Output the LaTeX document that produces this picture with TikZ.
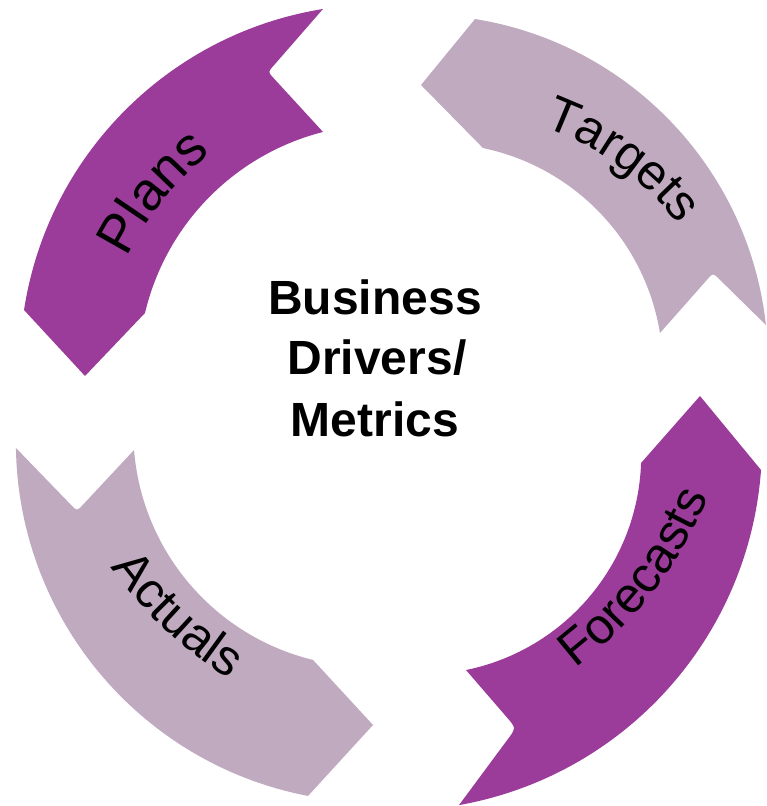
\documentclass[tikz,border=0pt]{standalone}
\usepackage{fontspec}
\setmainfont{Liberation Sans}
\usetikzlibrary{decorations.text}
\definecolor{plum}{RGB}{155,60,155}
\definecolor{mauve}{RGB}{192,170,192}
\newcommand\lblfont{\fontsize{50}{50}\selectfont}
\newcommand\lblfontbig{\fontsize{54}{54}\selectfont}
\begin{document}
\begin{tikzpicture}[x=1pt,y=1pt,
  lbl/.style={decoration={text along path, text align=center, text={#1}}, decorate},
  ctr/.style={font=\fontsize{48}{48}\selectfont\bfseries, inner sep=0pt}]
\useasboundingbox (0,0) rectangle (767,806);

% Plans arrow
\fill[plum] ([shift={(380.3,441.1)}]99.15:360.5) arc[start angle=99.15, end angle=171.24, radius=360.5]
  -- (85,430) -- ([shift={(383.4,436.6)}]166.69:245) arc[start angle=166.69, end angle=104.27, radius=245]
  -- (273.4,728.1) .. controls (268,734) .. (273.3,740) -- cycle;

% Targets arrow
\fill[mauve] (421,721) -- ([shift={(419.7,443.1)}]80.86:348.3) arc[start angle=80.86, end angle=6.25, radius=348.3]
  -- (718.7,527.4) .. controls (713,533) .. (707.7,527)
  -- ([shift={(436.9,436.7)}]9.24:226) arc[start angle=9.24, end angle=78.23, radius=226] -- cycle;

% Actuals arrow
\fill[mauve] ([shift={(375.9,363.6)}]180.89:360) arc[start angle=180.89, end angle=259.13, radius=360]
  -- (373,81) -- ([shift={(368.6,374.7)}]256.33:235.3) arc[start angle=256.33, end angle=184.56, radius=235.3]
  -- (82.5,300.8) .. controls (77,295) .. (71.4,300.7) -- cycle;

% Forecasts arrow
\fill[plum] ([shift={(394.6,362.6)}]-79.9:367.4) arc[start angle=-79.9, end angle=-4.15, radius=367.4]
  -- (700,410) -- ([shift={(422,350.7)}]-2.01:219.2) arc[start angle=-2.01, end angle=-78.42, radius=219.2]
  -- (510.8,84.1) .. controls (515,78) .. (511.3,71.5) -- cycle;

% labels along arcs
\path[lbl={|\lblfontbig|Plans}] ([shift={(394.8,417.8)}]171:298) arc[start angle=171, end angle=111, radius=298];
\path[lbl={|\lblfont|Targets}] ([shift={(441.7,397.3)}]84:300) arc[start angle=84, end angle=24, radius=300];
\path[lbl={|\lblfont|Actuals}] ([shift={(451.2,484.2)}]197:420) arc[start angle=197, end angle=257, radius=420];
\path[lbl={|\lblfont|Forecasts}] ([shift={(321.1,471.2)}]-67.7:420) arc[start angle=-67.7, end angle=-7.7, radius=420];

% centre text
\node[ctr, anchor=base] (business) at (375,491) {Business};
\node[ctr, anchor=base] (drivers) at (377,431) {Drivers/};
\node[ctr, anchor=base] (metrics) at (375,369) {Metrics};
\end{tikzpicture}
\end{document}
